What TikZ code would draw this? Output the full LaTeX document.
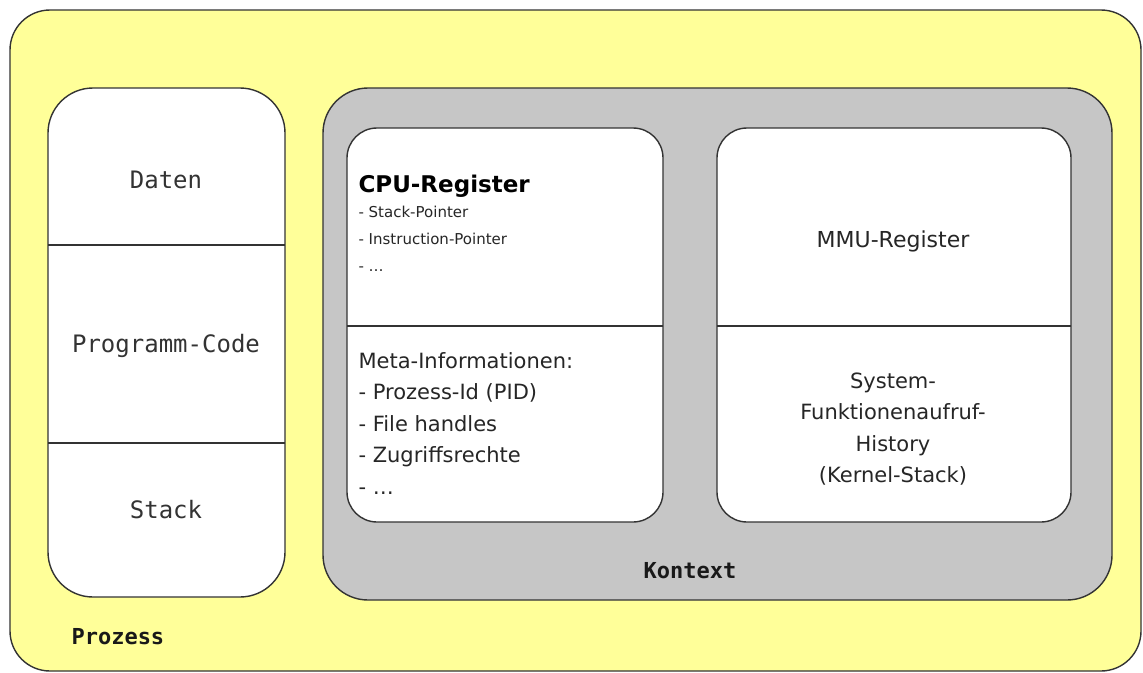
\documentclass[tikz,border=0pt]{standalone}
\usepackage{fontspec}
\setmainfont{DejaVu Sans}
\setmonofont{DejaVu Sans Mono}
\definecolor{prozessyellow}{HTML}{FFFF99}
\definecolor{kontextgray}{HTML}{C6C6C6}
\begin{document}
\begin{tikzpicture}[x=1pt,y=-1pt,
  boxline/.style={draw=black!80, line width=1.4pt},
  monolabel/.style={font=\ttfamily\fontsize{24}{26}\selectfont, text=black!80},
  boldmono/.style={font=\ttfamily\bfseries\fontsize{22}{24}\selectfont, text=black!90},
  bodytext/.style={font=\fontsize{21}{31.5}\selectfont, align=left, text=black!85},
  smalltext/.style={font=\fontsize{15}{27}\selectfont, align=left, text=black!85}]
\useasboundingbox (0,0) rectangle (1143,672);
\fill[white] (0,0) rectangle (1143,672);
% Prozess
\draw[boxline, fill=prozessyellow, rounded corners=40pt] (10,10) rectangle (1141,671);
\node[boldmono, anchor=west] (prozess) at (68,637) {Prozess};
% left column
\draw[boxline, fill=white, rounded corners=45pt] (48,88) rectangle (285,597);
\coordinate (l1a) at (48,245); \coordinate (l1b) at (285,245);
\coordinate (l2a) at (48,443); \coordinate (l2b) at (285,443);
\draw[boxline] (l1a) -- (l1b);
\draw[boxline] (l2a) -- (l2b);
\node[monolabel] (daten) at (166,180) {Daten};
\node[monolabel] (code) at (166,346) {Programm-Code};
\node[monolabel] (stack) at (166,510) {Stack};
% Kontext
\draw[boxline, fill=kontextgray, rounded corners=45pt] (323,88) rectangle (1112,600);
\node[boldmono] (kontext) at (690,571) {Kontext};
% CPU box
\draw[boxline, fill=white, rounded corners=30pt] (347,128) rectangle (663,522);
\coordinate (c1a) at (347,326); \coordinate (c1b) at (663,326);
\draw[boxline] (c1a) -- (c1b);
\node[anchor=west, font=\bfseries\fontsize{23}{26}\selectfont] (cpu) at (355,186) {CPU-Register};
\node[smalltext, anchor=north west] (cpulist) at (355,203) {- Stack-Pointer\\- Instruction-Pointer\\- \ldots};
\node[bodytext, anchor=north west] (meta) at (355,349) {Meta-Informationen:\\- Prozess-Id (PID)\\- File handles\\- Zugriffsrechte\\- \ldots};
% MMU box
\draw[boxline, fill=white, rounded corners=30pt] (717,128) rectangle (1071,522);
\coordinate (m1a) at (717,326); \coordinate (m1b) at (1071,326);
\draw[boxline] (m1a) -- (m1b);
\node[font=\fontsize{22}{24}\selectfont, text=black!85] (mmu) at (893,241) {MMU-Register};
\node[bodytext, align=center] (sys) at (893,429) {System-\\Funktionenaufruf-\\History\\(Kernel-Stack)};
\end{tikzpicture}
\end{document}
